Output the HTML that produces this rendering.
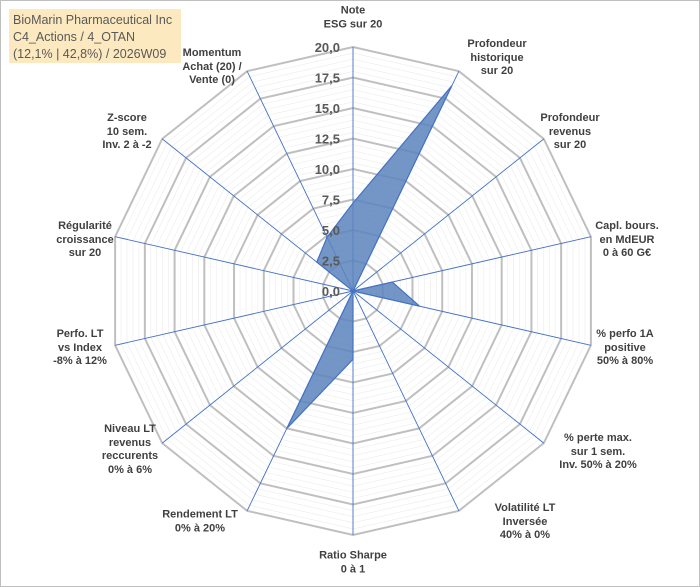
<!DOCTYPE html>
<html><head><meta charset="utf-8"><style>
body{margin:0;background:#fff}
#c{position:relative;width:700px;height:587px;overflow:hidden;font-family:"Liberation Sans",sans-serif}
.t{position:absolute;font-size:11px;font-weight:bold;color:#404040;text-align:center;line-height:13.5px;white-space:nowrap;transform:translate(-50%,-50%)}
</style></head><body>
<div id="c">
<svg id="s" width="700" height="587" style="position:absolute;left:0;top:0">
<rect x="0.5" y="0.5" width="699" height="586" fill="#fff" stroke="#bfbfbf"/>
</svg>
<div style="position:absolute;left:9px;top:9px;width:172px;height:54px;background:#fde9c0;font-size:12.5px;color:#595959;line-height:17px;padding:3px 0 0 4px;box-sizing:border-box;white-space:nowrap">BioMarin Pharmaceutical Inc<br>C4_Actions / 4_OTAN<br>(12,1% | 42,8%) / 2026W09</div>
</div>
<script>
const categories=["Note\nESG sur 20","Profondeur\nhistorique\nsur 20","Profondeur\nrevenus\nsur 20","Capl. bours.\nen MdEUR\n0 à 60 G€","% perfo 1A\npositive\n50% à 80%","% perte max.\nsur 1 sem.\nInv. 50% à 20%","Volatilité LT\nInversée\n40% à 0%","Ratio Sharpe\n0 à 1","Rendement LT\n0% à 20%","Niveau LT\nrevenus\nreccurents\n0% à 6%","Perfo. LT\nvs Index\n-8% à 12%","Régularité\ncroissance\nsur 20","Z-score\n10 sem.\nInv. 2 à -2","Momentum\nAchat (20) /\nVente (0)"];
const values=[7.2,18.7,0,3.3,5.6,0,0,5.6,12.5,0,0,0,3.8,4.9];
const tickLabels=["0,0","2,5","5,0","7,5","10,0","12,5","15,0","17,5","20,0"];
const tickValues=[0,2.5,5,7.5,10,12.5,15,17.5,20];
const maxV=20, cx=353, cy=291, R=244;
const labelPos=[[353,18],[497,58],[570,132],[627,240],[625,348],[598,452],[525,522],[353,563],[200,522],[130,450],[80,348],[85,240],[127,132],[212,67]];
const svg=document.getElementById('s'), NS='http://www.w3.org/2000/svg';
const n=categories.length;
function ang(i){return -Math.PI/2+i*2*Math.PI/n;}
function pt(i,v){const r=v/maxV*R;return [cx+r*Math.cos(ang(i)),cy+r*Math.sin(ang(i))];}
function mk(tag,attrs){const e=document.createElementNS(NS,tag);for(const k in attrs)e.setAttribute(k,attrs[k]);svg.appendChild(e);return e;}
// minor rings
for(let v=0.5;v<maxV;v+=0.5){if(Math.abs(v/2.5-Math.round(v/2.5))<1e-6)continue;
 const p=mk('polygon',{points:categories.map((c,i)=>pt(i,v).join(',')).join(' '),fill:'none',stroke:'#ececec','stroke-width':0.6});
 
 }
tickValues.forEach(v=>{if(v===0)return;
 const p=mk('polygon',{points:categories.map((c,i)=>pt(i,v).join(',')).join(' '),fill:'none',stroke:'#bfbfbf','stroke-width':2});
 
 });
categories.forEach((c,i)=>{const e=pt(i,maxV);
 const l=mk('line',{x1:cx,y1:cy,x2:e[0],y2:e[1],stroke:'#4472c4','stroke-width':0.9});
 
 });
const poly=mk('polygon',{points:values.map((v,i)=>pt(i,v).join(',')).join(' '),fill:'#5b84bc','fill-opacity':0.85,stroke:'#4472c4','stroke-width':1.2});


tickValues.forEach((v,k)=>{const y=cy-v/maxV*R;
 const t=mk('text',{x:cx-13,y:y+5,'text-anchor':'end','font-size':13,'font-weight':'bold',fill:'#595959','font-family':'Liberation Sans, sans-serif'});
 t.textContent=tickLabels[k];
 
 });
const c=document.getElementById('c');
categories.forEach((cat,i)=>{const d=document.createElement('div');d.className='t';
 d.style.left=labelPos[i][0]+'px';d.style.top=labelPos[i][1]+'px';
 d.innerHTML=cat.split('\n').join('<br>');
 
 
 c.appendChild(d);});
</script>
</body></html>
